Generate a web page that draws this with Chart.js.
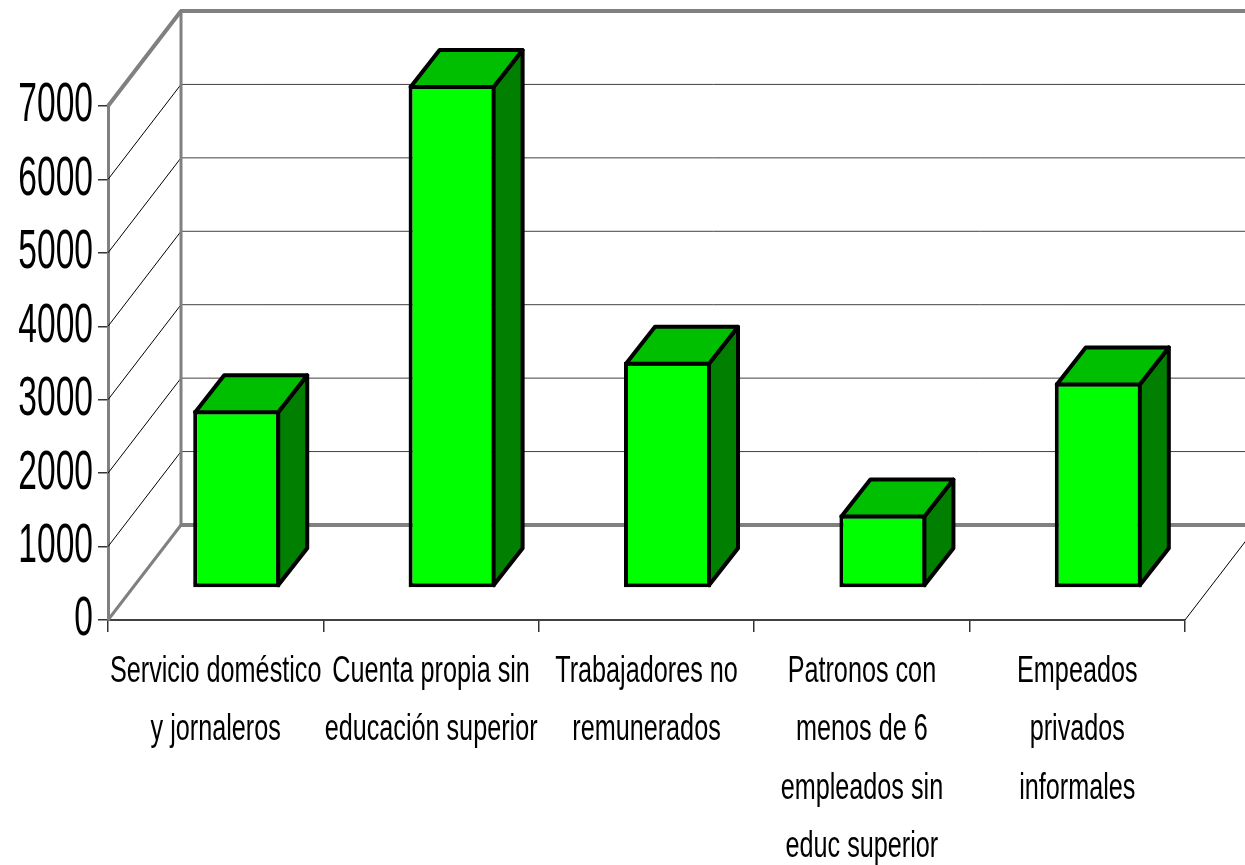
<!DOCTYPE html>
<html>
<head>
<meta charset="utf-8">
<title>Ocupados informales</title>
<script src="https://cdn.jsdelivr.net/npm/chart.js"></script>
<style>
body { margin: 0; background: #fff; }
#wrap { width: 1245px; height: 865px; }
</style>
</head>
<body>
<div id="wrap"><canvas id="barChart" width="1245" height="865"></canvas></div>
<script>
// data
const categories = [
  ['Servicio doméstico', 'y jornaleros'],
  ['Cuenta propia sin', 'educación superior'],
  ['Trabajadores no', 'remunerados'],
  ['Patronos con', 'menos de 6', 'empleados sin', 'educ superior'],
  ['Empeados', 'privados', 'informales']
];
const values = [2420, 6850, 3080, 1000, 2800];
const yMin = 0;
const yMax = 7000;
const yStep = 1000;

const family = '"Liberation Sans", Arial, sans-serif';

// depth of the walls and of the bars (pseudo 3D, Excel style)
const wallDepth = { x: 73, y: -95 };
const barShift = { x: 21, y: -32 };
const barDepth = { x: 29, y: -37 };

function line(ctx, x1, y1, x2, y2, color, width) {
  ctx.beginPath();
  ctx.moveTo(x1, y1);
  ctx.lineTo(x2, y2);
  ctx.strokeStyle = color;
  ctx.lineWidth = width;
  ctx.stroke();
}

function poly(ctx, pts, fill) {
  ctx.beginPath();
  ctx.moveTo(pts[0][0], pts[0][1]);
  for (let i = 1; i < pts.length; i++) ctx.lineTo(pts[i][0], pts[i][1]);
  ctx.closePath();
  ctx.fillStyle = fill;
  ctx.fill();
  ctx.strokeStyle = '#000';
  ctx.lineWidth = 4;
  ctx.lineJoin = 'round';
  ctx.stroke();
}

// the original uses a tall, very condensed face: squeeze text horizontally
const narrowText = {
  id: 'narrowText',
  beforeDraw(chart) {
    const ctx = chart.ctx;
    if (ctx._narrow) return;
    ctx._narrow = true;
    const orig = ctx.fillText.bind(ctx);
    ctx.fillText = (t, x, y, mw) => {
      const size = parseFloat((ctx.font.match(/([\d.]+)px/) || [0, 20])[1]);
      const k = size > 45 ? 0.6 : 0.7;
      const w = ctx.measureText(t).width * k;
      orig(t, x, y, mw !== undefined ? Math.min(mw, w) : w);
    };
  }
};

const box3d = {
  id: 'box3d',
  beforeDatasetsDraw(chart) {
    const ctx = chart.ctx;
    const a = chart.chartArea;
    const ys = chart.scales.y;
    const dx = wallDepth.x, dy = wallDepth.y;
    ctx.save();
    // gridlines on the back and left walls
    ys.ticks.forEach(t => {
      if (t.value <= yMin || t.value >= yMax) return;
      const p = ys.getPixelForValue(t.value);
      line(ctx, a.left + dx, p + dy, a.right + dx + 20, p + dy, '#404040', 1);
      line(ctx, a.left, p, a.left + dx, p + dy, '#000', 1);
    });
    const top = ys.getPixelForValue(yMax);
    const bot = ys.getPixelForValue(yMin);
    // wall edges
    line(ctx, a.left + dx, top + dy, a.left + dx, bot + dy, '#808080', 3);
    line(ctx, a.left, top, a.left + dx, top + dy, '#808080', 4);
    line(ctx, a.left + dx - 1, top + dy, a.right + dx + 20, top + dy, '#808080', 4);
    line(ctx, a.left + dx - 1, bot + dy, a.right + dx + 20, bot + dy, '#808080', 4);
    line(ctx, a.left, bot, a.left + dx, bot + dy, '#808080', 3);
    line(ctx, a.right, bot, a.right + dx, bot + dy, '#000', 1);
    ctx.restore();

    ctx.save();
    ctx.translate(barShift.x, barShift.y);
  },
  afterDatasetsDraw(chart) {
    const ctx = chart.ctx;
    const bx = barDepth.x, by = barDepth.y;
    chart.getDatasetMeta(0).data.forEach(bar => {
      const p = bar.getProps(['x', 'y', 'base', 'width'], true);
      const L = p.x - p.width / 2 + 2;
      const R = p.x + p.width / 2 - 2;
      const T = p.y + 2;
      const B = p.base - 2;
      poly(ctx, [[R, T], [R + bx, T + by], [R + bx, B + by], [R, B]], '#007F00');
      poly(ctx, [[L, T], [R, T], [R + bx, T + by], [L + bx, T + by]], '#00BF00');
    });
    ctx.restore();
  }
};

new Chart(document.getElementById('barChart'), {
  type: 'bar',
  data: {
    labels: categories,
    datasets: [{
      data: values,
      backgroundColor: '#00FF00',
      borderColor: '#000000',
      borderWidth: 4,
      borderSkipped: false,
      barPercentage: 0.404,
      categoryPercentage: 1,
      clip: false
    }]
  },
  options: {
    responsive: false,
    animation: false,
    layout: { padding: { top: 106, right: 60, left: 0, bottom: 0 } },
    plugins: {
      legend: { display: false },
      tooltip: { enabled: false }
    },
    scales: {
      x: {
        afterFit: s => { s.height = 245; },
        grid: { drawOnChartArea: false, drawTicks: true, tickLength: 12, color: '#333', lineWidth: 1.5 },
        border: { display: true, color: '#404040', width: 2 },
        ticks: {
          color: '#000',
          maxRotation: 0,
          autoSkip: false,
          padding: 11,
          font: { family: family, size: 36, lineHeight: 1.62 }
        }
      },
      y: {
        min: yMin,
        max: yMax,
        afterFit: s => { s.width = 108; },
        grid: { drawOnChartArea: false, drawTicks: true, tickLength: 10, color: '#333', lineWidth: 1.5 },
        border: { display: true, color: '#808080', width: 3 },
        ticks: {
          stepSize: yStep,
          color: '#000',
          padding: 5,
          callback: v => String(v),
          font: { family: family, size: 56 }
        }
      }
    }
  },
  plugins: [narrowText, box3d]
});
</script>
</body>
</html>
